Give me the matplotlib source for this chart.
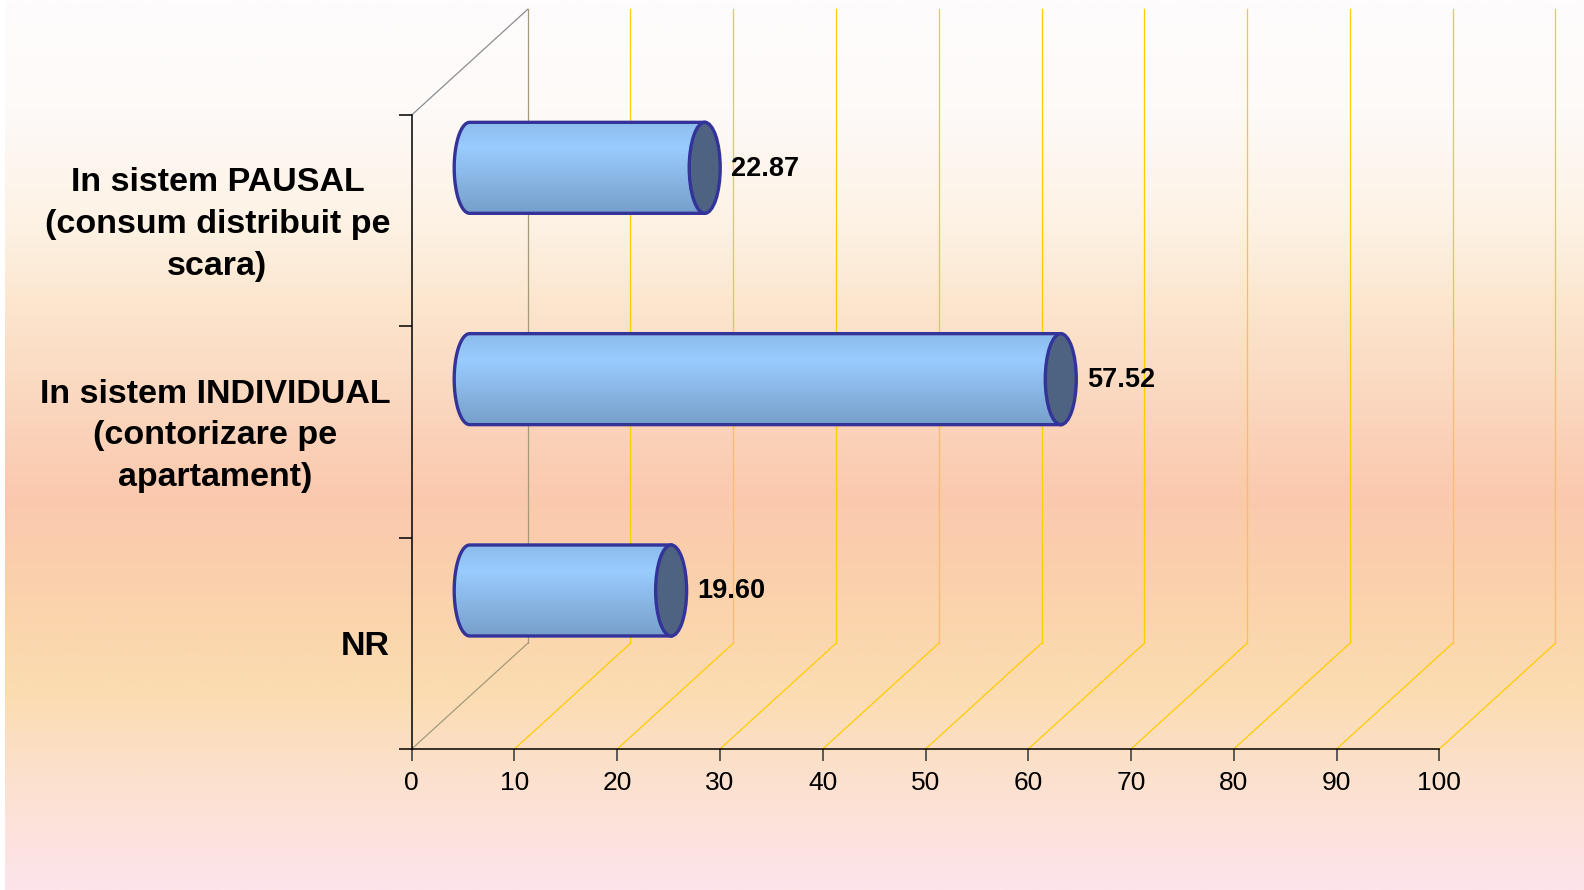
import numpy as np
import matplotlib
matplotlib.use("Agg")
import matplotlib.pyplot as plt
from matplotlib import transforms
from matplotlib.patches import Ellipse, PathPatch
from matplotlib.path import Path
from matplotlib.colors import LinearSegmentedColormap

# ---------------- data ----------------
categories = [
    "NR",
    "In sistem INDIVIDUAL\n(contorizare pe\napartament)",
    "In sistem PAUSAL\n(consum distribuit pe\nscara)",
]
values = [19.60, 57.52, 22.87]
value_labels = ["19.60", "57.52", "22.87"]
x_ticks = [0, 10, 20, 30, 40, 50, 60, 70, 80, 90, 100]
x_tick_labels = [str(t) for t in x_ticks]

# ---------------- layout (pixels) ----------------
W, H = 1584, 890
DPI = 100
X0PX, X1PX = 411.7, 1439.3      # front plot x range
YTOP, YBOT = 115.0, 749.0        # front plot y range (from top)
DEPTH_DX, DEPTH_DY = 116.0, 105.7  # 3-D depth offset in px
CAP_A_PX = 15.5                  # half width of cylinder end ellipse
BAR_H_PX = 91.0                  # cylinder height

plt.rcParams["font.family"] = ["Liberation Sans", "DejaVu Sans"]

fig = plt.figure(figsize=(W / DPI, H / DPI), dpi=DPI)

# ---------------- background gradient ----------------
bg = fig.add_axes([0, 0, 1, 1], zorder=0)
bg.set_axis_off()
bg_stops = [
    (0.00, "#FEFCFD"),
    (0.12, "#FEFAF8"),
    (0.25, "#FDF2E4"),
    (0.34, "#FCE6CE"),
    (0.44, "#FBD8C0"),
    (0.56, "#FAC9AE"),
    (0.68, "#FBD3AC"),
    (0.78, "#FBDCB1"),
    (0.88, "#FCE1CF"),
    (1.00, "#FDE4EA"),
]
bg_cmap = LinearSegmentedColormap.from_list("bg", bg_stops)
grad = np.linspace(0, 1, 600).reshape(-1, 1)
bg.imshow(grad, aspect="auto", cmap=bg_cmap, origin="upper",
          extent=[5 / W, 1, 0, 1], interpolation="bilinear")
bg.set_xlim(0, 1)
bg.set_ylim(0, 1)

# ---------------- main axes ----------------
ax = fig.add_axes([X0PX / W, (H - YBOT) / H, (X1PX - X0PX) / W, (YBOT - YTOP) / H], zorder=1)
ncat = len(categories)
ax.set_xlim(0, 100)
ax.set_ylim(0, ncat)
ax.patch.set_visible(False)
for s in ["top", "right"]:
    ax.spines[s].set_visible(False)
for s in ["bottom", "left"]:
    ax.spines[s].set_color("black")
    ax.spines[s].set_linewidth(1.1)

# data units per pixel
ux = 100.0 / (X1PX - X0PX)
uy = ncat / (YBOT - YTOP)
ddx, ddy = DEPTH_DX * ux, DEPTH_DY * uy

back = transforms.Affine2D().translate(ddx, ddy) + ax.transData
mid = transforms.Affine2D().translate(ddx / 2, ddy / 2) + ax.transData
shear_floor = transforms.Affine2D.from_values(1, 0, ddx, ddy, 0, 0) + ax.transData
shear_top = transforms.Affine2D.from_values(1, 0, ddx, ddy, 0, ncat) + ax.transData

grid_gold = "#FFCC00"
# back-wall verticals and floor diagonals
for x in x_ticks:
    col = "#A39A78" if x == 0 else grid_gold
    ax.plot([x, x], [0, ncat], transform=back, color=col, lw=0.9, clip_on=False, zorder=1)
    ax.plot([x, x], [0, 1], transform=shear_floor, color=col, lw=0.9, clip_on=False, zorder=1)
# left-wall top edge
ax.plot([0, 0], [0, 1], transform=shear_top, color="#8C8C8C", lw=0.9, clip_on=False, zorder=1)

# ---------------- cylinders ----------------
cap_a = CAP_A_PX * ux
half_h = BAR_H_PX * uy / 2
body_cmap = LinearSegmentedColormap.from_list(
    "body", [(0.0, "#8BBBEB"), (0.28, "#99CCFF"), (0.55, "#8DBBEA"), (1.0, "#779FCB")])
theta = np.linspace(1.5 * np.pi, 0.5 * np.pi, 60)
for i, (v, lab) in enumerate(zip(values, value_labels)):
    yc = i + 0.5
    verts = [(0, yc + half_h), (v, yc + half_h), (v, yc - half_h), (0, yc - half_h)]
    verts += [(cap_a * np.cos(t), yc + half_h * np.sin(t)) for t in theta]
    codes = [Path.MOVETO] + [Path.LINETO] * (len(verts) - 1)
    body_path = Path(verts + [verts[0]], codes + [Path.CLOSEPOLY])
    body_patch = PathPatch(body_path, transform=mid, facecolor="none",
                           edgecolor="#333399", lw=2.4, zorder=3, clip_on=False)
    gy = np.linspace(0, 1, 200).reshape(-1, 1)
    im = ax.imshow(gy, cmap=body_cmap, aspect="auto", origin="upper",
                   extent=[-cap_a, v, yc - half_h, yc + half_h],
                   transform=mid, zorder=2, interpolation="bilinear")
    ax.add_patch(body_patch)
    im.set_clip_path(body_patch)
    cap = Ellipse((v, yc), 2 * cap_a, 2 * half_h, transform=mid,
                  facecolor="#4D6381", edgecolor="#333399", lw=2.4, zorder=4, clip_on=False)
    ax.add_patch(cap)
    ax.text(v, yc, lab, transform=transforms.offset_copy(mid, fig=fig, x=26, y=-1, units="dots"),
            ha="left", va="center", fontsize=19.5, fontweight="bold", color="black", zorder=5)

ax.set_xlim(0, 100)
ax.set_ylim(0, ncat)

# ---------------- ticks ----------------
ax.set_xticks(x_ticks, labels=x_tick_labels)
ax.tick_params(axis="x", which="major", direction="out", length=8.6, width=1.1,
               color="#333333", labelsize=19, pad=7.5)
ax.set_yticks(np.arange(0, ncat + 1), labels=[""] * (ncat + 1))
ax.tick_params(axis="y", which="major", direction="out", length=9.4, width=1.1, color="black")
ax.set_yticks(np.arange(ncat) + 0.5, labels=categories, minor=True)
ax.tick_params(axis="y", which="minor", length=0, pad=15.5, labelsize=24.5)
for t in ax.get_yticklabels(minor=True):
    t.set_fontweight("bold")
    t.set_multialignment("center")
    t.set_linespacing(1.45)
    if "\n" in t.get_text():
        t.set_transform(t.get_transform() + transforms.Affine2D().translate(0, 5))

fig.savefig("out.png", dpi=DPI)
